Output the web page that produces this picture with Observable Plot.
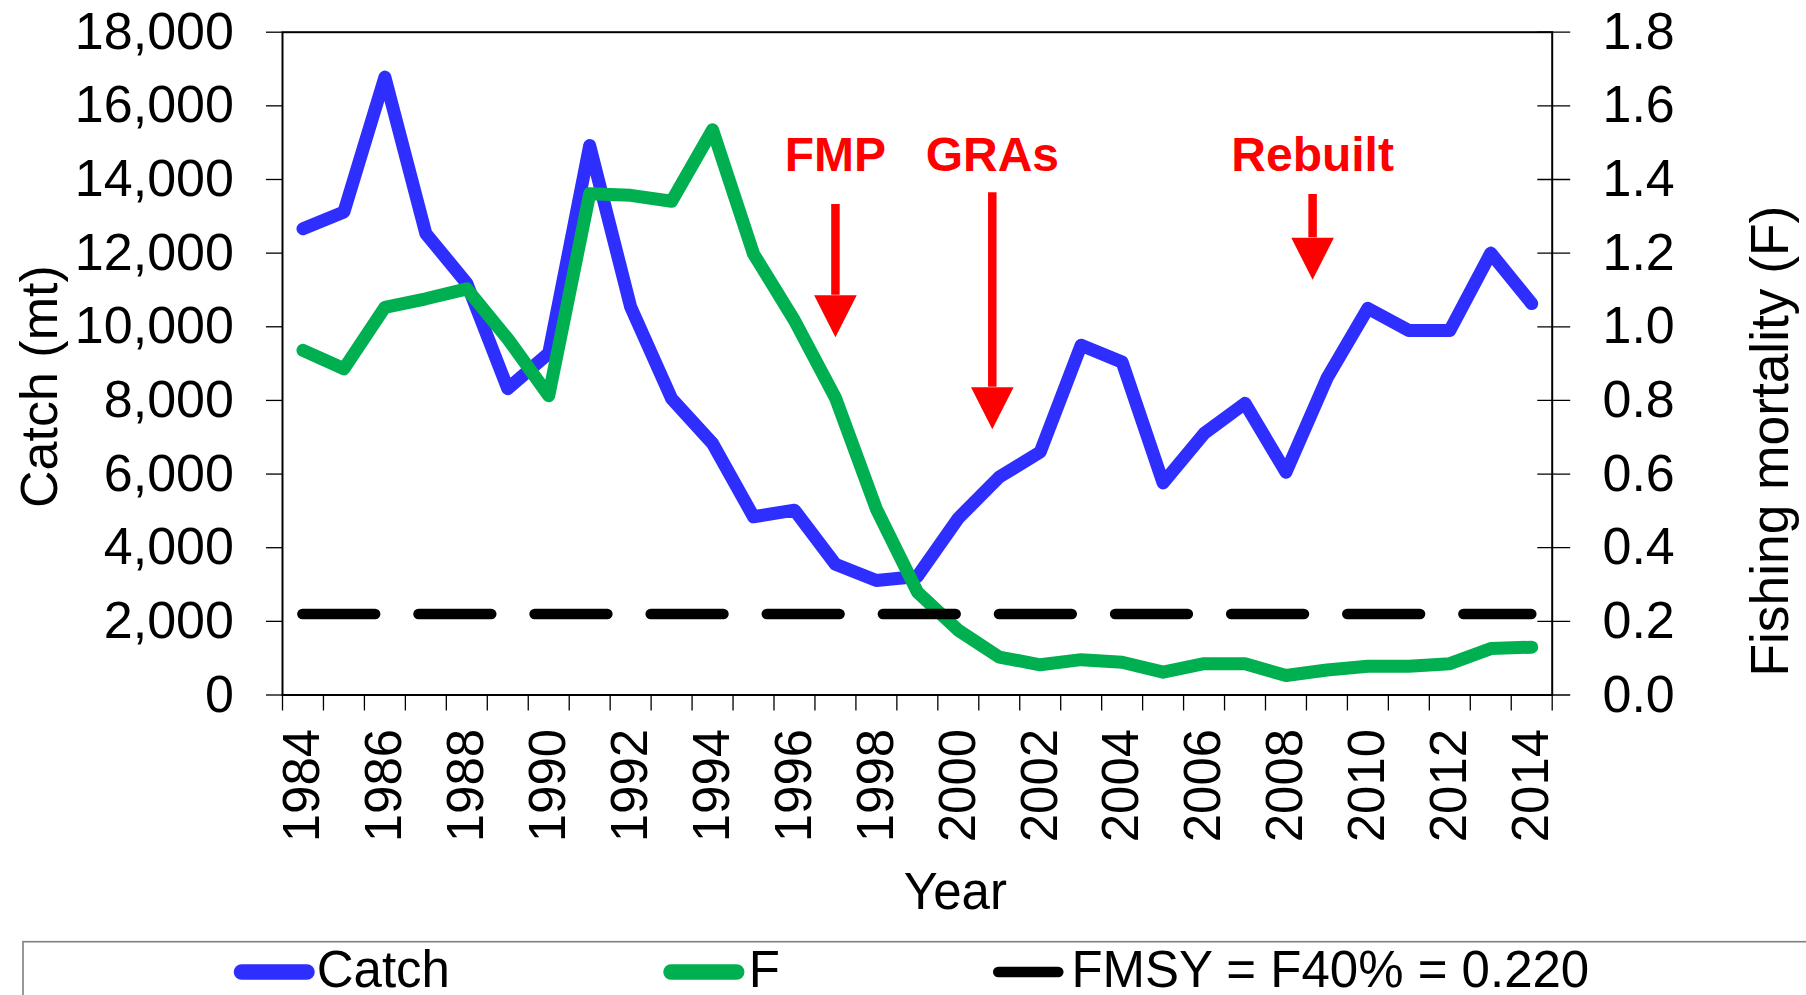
<!DOCTYPE html>
<html>
<head>
<meta charset="utf-8">
<script src="https://cdn.jsdelivr.net/npm/d3@7"></script>
<script src="https://cdn.jsdelivr.net/npm/@observablehq/plot@0.6"></script>
<style>
  html, body { margin: 0; padding: 0; background: #fff; overflow: hidden; }
  #wrap { position: relative; width: 1806px; height: 995px; overflow: hidden; }
  #wrap svg { display: block; }
</style>
</head>
<body>
<div id="wrap"></div>
<script>
// ---- data ----
const years = [1984, 1985, 1986, 1987, 1988, 1989, 1990, 1991, 1992, 1993, 1994, 1995, 1996, 1997, 1998, 1999,
               2000, 2001, 2002, 2003, 2004, 2005, 2006, 2007, 2008, 2009, 2010, 2011, 2012, 2013, 2014];
const catchMt = [12660, 13120, 16780, 12530, 11180, 8320, 9280, 14920, 10540, 8050, 6830, 4840, 5020, 3550, 3110, 3220,
                 4800, 5920, 6600, 9500, 9040, 5760, 7100, 7920, 6050, 8600, 10500, 9900, 9900, 12000, 10630];
const fishingF = [0.936, 0.886, 1.053, 1.076, 1.103, 0.967, 0.813, 1.361, 1.357, 1.341, 1.535, 1.198, 1.017, 0.807, 0.505, 0.28,
                  0.176, 0.103, 0.082, 0.096, 0.089, 0.062, 0.085, 0.085, 0.053, 0.068, 0.078, 0.078, 0.085, 0.126, 0.130];
const fmsy = 0.22;
const catchTicks = [0, 2000, 4000, 6000, 8000, 10000, 12000, 14000, 16000, 18000];
const fTicks = [0.0, 0.2, 0.4, 0.6, 0.8, 1.0, 1.2, 1.4, 1.6, 1.8];
const yearLabels = [1984, 1986, 1988, 1990, 1992, 1994, 1996, 1998, 2000, 2002, 2004, 2006, 2008, 2010, 2012, 2014];
// annotation arrows (year position, catch-axis units)
const annotations = [
  {label: "FMP",     year: 1997.0,  textY: 14244, shaftTop: 13321, headBase: 10858},
  {label: "GRAs",    year: 2000.83, textY: 14244, shaftTop: 13638, headBase: 8359},
  {label: "Rebuilt", year: 2008.65, textY: 14217, shaftTop: 13593, headBase: 12416}
];
const legendItems = [
  {label: "Catch", color: "#2e2eff"},
  {label: "F", color: "#00b050"},
  {label: "FMSY = F40% = 0.220", color: "#000000"}
];

// ---- drawing ----
const FONT = "'Liberation Sans', Arial, Helvetica, sans-serif";
const F_SCALE = 10000; // F is drawn on the catch scale: 1.8 -> 18000
const data = years.map((year, i) => ({year, catchMt: catchMt[i], F: fishingF[i]}));
const bandEdges = years.map(y => y - 0.5).concat([years[years.length - 1] + 0.5]);
const fmsyRule = [{y: fmsy * F_SCALE, x1: years[0], x2: years[years.length - 1]}];

const headSymbol = {
  draw(ctx) {
    ctx.moveTo(-21.3, 0);
    ctx.lineTo(21.3, 0);
    ctx.lineTo(0, 42);
    ctx.closePath();
  }
};

const plot = Plot.plot({
  width: 1806,
  height: 940,
  marginLeft: 282,
  marginRight: 254.3,
  marginTop: 31.7,
  marginBottom: 245.5,
  style: {fontFamily: FONT, fontSize: "52px", color: "black", background: "white", overflow: "visible"},
  x: {type: "linear", domain: [bandEdges[0], bandEdges[bandEdges.length - 1]]},
  y: {domain: [0, 18000]},
  marks: [
    // left axis (catch)
    Plot.axisY({anchor: "left", ticks: catchTicks, tickSize: 16, tickPadding: 32.6,
                tickFormat: d3.format(","), label: null, fontSize: 52, strokeWidth: 1.3}),
    // right axis (F): crossing ticks + labels
    Plot.axisY({anchor: "right", ticks: fTicks.map(v => v * F_SCALE), tickSize: 32.9, dx: -15.4,
                fill: "none", label: null, strokeWidth: 1.3}),
    Plot.axisY({anchor: "right", ticks: fTicks.map(v => v * F_SCALE), tickSize: 0, tickPadding: 50.3,
                tickFormat: d => (d / F_SCALE).toFixed(1), label: null, fontSize: 52}),
    // bottom axis: ticks at band edges, labels every other year
    Plot.axisX({ticks: bandEdges, tickSize: 16, fill: "none", label: null, strokeWidth: 1.3}),
    Plot.axisX({ticks: yearLabels, tickSize: 0, tickPadding: 33.8, tickRotate: -90,
                tickFormat: d => String(d), label: null, fontSize: 51}),
    Plot.frame({stroke: "black", strokeWidth: 2}),
    // series
    Plot.line(data, {x: "year", y: "catchMt", stroke: "#2e2eff", strokeWidth: 13,
                     strokeLinecap: "round", strokeLinejoin: "round"}),
    Plot.line(data, {x: "year", y: d => d.F * F_SCALE, stroke: "#00b050", strokeWidth: 13,
                     strokeLinecap: "round", strokeLinejoin: "round"}),
    Plot.ruleY(fmsyRule, {y: "y", x1: "x1", x2: "x2", stroke: "black", strokeWidth: 10.7,
                          strokeDasharray: "72.6 43.5", strokeLinecap: "round"}),
    // annotations
    Plot.ruleX(annotations, {x: "year", y1: "shaftTop", y2: d => d.headBase, stroke: "#ff0000", strokeWidth: 8.5}),
    Plot.dot(annotations, {x: "year", y: "headBase", symbol: headSymbol, fill: "#ff0000", stroke: "none", r: 5}),
    Plot.text(annotations, {x: "year", y: "textY", text: "label", fill: "#ff0000", fontWeight: "bold",
                            fontSize: 48, lineAnchor: "bottom", fontFamily: FONT}),
    // axis titles
    Plot.text(["Catch (mt)"], {text: d => d, frameAnchor: "left", rotate: -90, dx: -226, dy: 23,
                               lineAnchor: "bottom", textAnchor: "middle", fontSize: 52}),
    Plot.text(["Fishing mortality (F)"], {text: d => d, frameAnchor: "right", rotate: -90, dx: 235.3, dy: 77.5,
                                          lineAnchor: "bottom", textAnchor: "middle", fontSize: 53.3}),
    Plot.text(["Year"], {text: d => d, frameAnchor: "bottom", dx: 38, dy: 213.8,
                         lineAnchor: "bottom", textAnchor: "middle", fontSize: 51})
  ]
});
document.getElementById("wrap").appendChild(plot);

// ---- legend (below the plot) ----
const legend = d3.select("#wrap").append("svg")
  .attr("width", 1806).attr("height", 55)
  .style("font-family", FONT);
legend.append("rect")
  .attr("x", 23).attr("y", 1.7).attr("width", 1800).attr("height", 120)
  .attr("fill", "none").attr("stroke", "#7f7f7f").attr("stroke-width", 1.6);
const swatchX = [241.5, 671, 998.3];
const swatchW = [65.5, 65.7, 59.9];
const swatchT = [15.5, 15.5, 10.7];
const textX = [316.7, 748.8, 1071.4];
legendItems.forEach((item, i) => {
  legend.append("line")
    .attr("x1", swatchX[i]).attr("x2", swatchX[i] + swatchW[i])
    .attr("y1", 32).attr("y2", 32)
    .attr("stroke", item.color).attr("stroke-width", swatchT[i]).attr("stroke-linecap", "round");
  legend.append("text")
    .attr("x", textX[i]).attr("y", 47).attr("font-size", 51).attr("fill", "black")
    .text(item.label);
});
</script>
</body>
</html>
